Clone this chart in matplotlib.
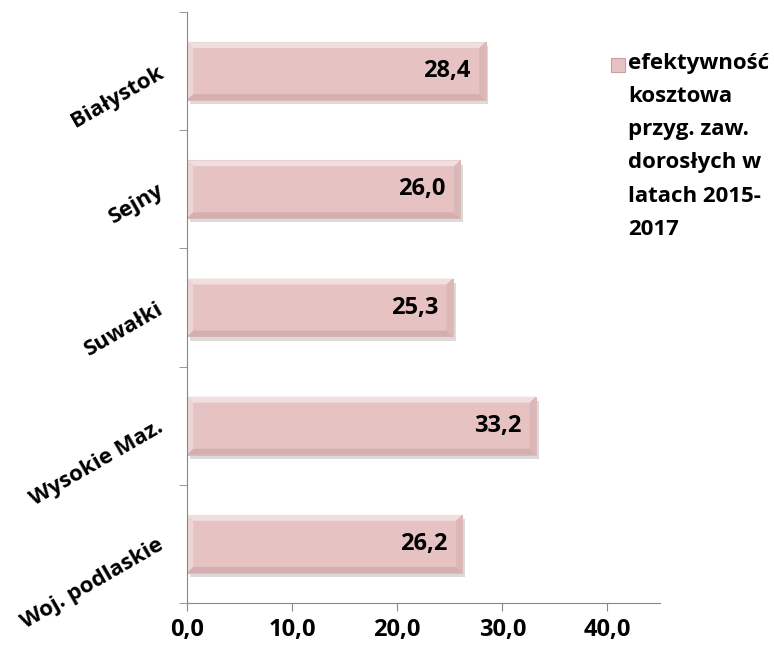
import matplotlib

matplotlib.use("Agg")
import matplotlib.pyplot as plt
import matplotlib.patheffects as pe
from matplotlib.patches import Polygon, Rectangle

regions = ["Woj. podlaskie", "Wysokie Maz.", "Suwałki", "Sejny", "Białystok"]
values = [26.2, 33.2, 25.3, 26.0, 28.4]
x_ticks = [0, 10, 20, 30, 40]
legend_text = "efektywność\nkosztowa\nprzyg. zaw.\ndorosłych w\nlatach 2015-\n2017"

plt.rcParams["font.family"] = ["Open Sans", "DejaVu Sans"]
plt.rcParams["font.weight"] = "bold"

fig = plt.figure(figsize=(7.74, 6.5), dpi=100)
ax = fig.add_axes([0.2416, 0.0723, 0.6111, 0.9092])

pos = list(range(len(regions)))
bar_h = 0.49
bars = ax.barh(pos, values, height=bar_h, color="#E6C2C2", edgecolor="#DDB9B9", linewidth=0.8)
for bar in bars:
    bar.set_path_effects([pe.SimplePatchShadow(offset=(2, -3), shadow_rgbFace="#999999", alpha=0.35), pe.Normal()])

# bevel look on each bar
bx, by = 0.6, 0.05
for bar in bars:
    x0, y0 = bar.get_x(), bar.get_y()
    x1, y1 = x0 + bar.get_width(), y0 + bar.get_height()
    sides = [
        ([(x0, y1), (x1, y1), (x1 - bx, y1 - by), (x0 + bx, y1 - by)], "#F1DFDF"),
        ([(x0, y0), (x0, y1), (x0 + bx, y1 - by), (x0 + bx, y0 + by)], "#EDD5D5"),
        ([(x0, y0), (x1, y0), (x1 - bx, y0 + by), (x0 + bx, y0 + by)], "#D5AFAF"),
        ([(x1, y0), (x1, y1), (x1 - bx, y1 - by), (x1 - bx, y0 + by)], "#DBB7B7"),
    ]
    for pts, col in sides:
        ax.add_patch(Polygon(pts, closed=True, facecolor=col, edgecolor="none", zorder=bar.get_zorder() + 0.1))

for p, v in zip(pos, values):
    ax.text(v - 1.4, p, f"{v:.1f}".replace(".", ","), ha="right", va="center", fontsize=17, fontweight="bold", color="black", zorder=5)

ax.set_xlim(0, 45)
ax.set_ylim(-0.5, len(regions) - 0.5)
ax.set_xticks(x_ticks)
ax.set_xticklabels([f"{t:.1f}".replace(".", ",") for t in x_ticks], fontsize=17, fontweight="bold")
ax.set_yticks(pos)
ax.set_yticklabels(regions, rotation=30, ha="right", va="center", rotation_mode="anchor", fontsize=16, fontweight="bold")
ax.tick_params(axis="y", which="major", length=0, pad=18)
ax.set_yticks([p - 0.5 for p in pos] + [len(regions) - 0.5], minor=True)
ax.tick_params(axis="y", which="minor", length=6, color="#888888", direction="out")
ax.tick_params(axis="x", which="major", length=6, color="#888888", direction="out", pad=5)

for side in ["top", "right"]:
    ax.spines[side].set_visible(False)
for side in ["left", "bottom"]:
    ax.spines[side].set_color("#888888")
    ax.spines[side].set_zorder(6)

fig.patches.append(Rectangle((611 / 774, 1 - 72 / 650), 14 / 774, 14 / 650, transform=fig.transFigure, facecolor="#E6C2C2", edgecolor="#C9A0A0", linewidth=0.8))
fig.text(628 / 774, 1 - 53 / 650, legend_text, ha="left", va="top", fontsize=16, fontweight="bold", linespacing=1.76)

fig.savefig("out.png", dpi=100)
